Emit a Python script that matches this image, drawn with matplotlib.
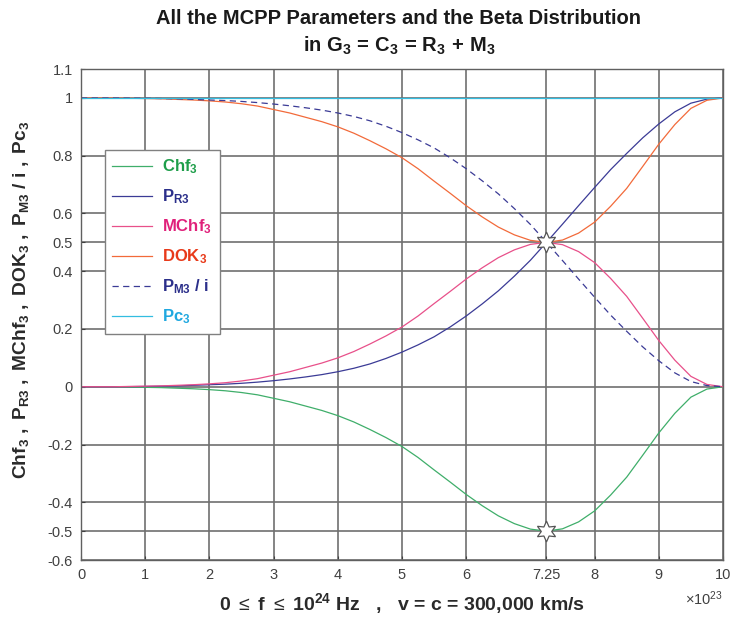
import numpy as np
import matplotlib
matplotlib.use("Agg")
import matplotlib.pyplot as plt

plt.rcParams['font.family'] = ['Liberation Sans', 'DejaVu Sans']
plt.rcParams['mathtext.fontset'] = 'custom'
plt.rcParams['mathtext.rm'] = 'Liberation Sans'
plt.rcParams['mathtext.bf'] = 'Liberation Sans:bold'
plt.rcParams['mathtext.it'] = 'Liberation Sans:italic'

# frequency axis in units of 1e23 Hz
f = [0, 0.25, 0.5, 0.75, 1, 1.25, 1.5, 1.75, 2, 2.25, 2.5, 2.75, 3, 3.25, 3.5,
     3.75, 4, 4.25, 4.5, 4.75, 5, 5.25, 5.5, 5.75, 6, 6.25, 6.5, 6.75, 7, 7.25,
     7.5, 7.75, 8, 8.25, 8.5, 8.75, 9, 9.25, 9.5, 9.75, 10]

p_r3 = [0, 0, 0, 0.0005, 0.001, 0.002, 0.003, 0.005, 0.007, 0.009, 0.012, 0.016,
        0.021, 0.027, 0.034, 0.042, 0.052, 0.064, 0.079, 0.098, 0.12, 0.145,
        0.173, 0.207, 0.245, 0.287, 0.332, 0.383, 0.438, 0.5, 0.563, 0.627,
        0.69, 0.752, 0.808, 0.862, 0.91, 0.952, 0.982, 0.996, 1.0]

p_m3 = [1, 1, 1, 0.9995, 0.999, 0.998, 0.997, 0.995, 0.993, 0.991, 0.988, 0.984,
        0.979, 0.973, 0.966, 0.958, 0.948, 0.936, 0.921, 0.902, 0.88, 0.855,
        0.827, 0.793, 0.755, 0.713, 0.668, 0.617, 0.562, 0.5, 0.437, 0.373,
        0.31, 0.248, 0.192, 0.138, 0.09, 0.048, 0.018, 0.004, 0.0]

chf3 = [0, 0, 0, -0.001, -0.002, -0.003, -0.005, -0.007, -0.01, -0.014, -0.02,
        -0.028, -0.04, -0.052, -0.067, -0.082, -0.1, -0.122, -0.148, -0.176,
        -0.207, -0.245, -0.288, -0.33, -0.373, -0.412, -0.447, -0.474, -0.493,
        -0.5, -0.492, -0.468, -0.43, -0.375, -0.313, -0.237, -0.16, -0.092,
        -0.036, -0.008, 0]

mchf3 = [0, 0, 0, 0.001, 0.002, 0.003, 0.005, 0.007, 0.01, 0.014, 0.02, 0.028,
         0.04, 0.052, 0.067, 0.082, 0.1, 0.122, 0.148, 0.176, 0.207, 0.245,
         0.288, 0.33, 0.373, 0.412, 0.447, 0.474, 0.493, 0.5, 0.492, 0.468,
         0.43, 0.375, 0.313, 0.237, 0.16, 0.092, 0.036, 0.008, 0]

dok3 = [1, 1, 1, 0.999, 0.998, 0.997, 0.995, 0.993, 0.99, 0.986, 0.98, 0.972,
        0.96, 0.948, 0.933, 0.918, 0.9, 0.878, 0.852, 0.824, 0.793, 0.755,
        0.712, 0.67, 0.627, 0.588, 0.553, 0.526, 0.507, 0.5, 0.508, 0.532,
        0.57, 0.625, 0.687, 0.763, 0.84, 0.908, 0.964, 0.992, 1]

pc3 = [1] * len(f)

star_x = [7.25, 7.25]
star_y = [0.5, -0.5]

x_ticks = [0, 1, 2, 3, 4, 5, 6, 7.25, 8, 9, 10]
x_ticklabels = ['0', '1', '2', '3', '4', '5', '6', '7.25', '8', '9', '10']
y_ticks = [-0.6, -0.5, -0.4, -0.2, 0, 0.2, 0.4, 0.5, 0.6, 0.8, 1, 1.1]
y_ticklabels = ['-0.6', '-0.5', '-0.4', '-0.2', '0', '0.2', '0.4', '0.5',
                '0.6', '0.8', '1', '1.1']

fig = plt.figure(figsize=(7.32, 6.23), dpi=100)
ax = fig.add_axes([0.1107, 0.1011, 0.877, 0.788])

lw = 0.9
ax.plot(f, chf3, color='#3fae6a', lw=lw, label=r'$\mathbf{Chf}_\mathbf{3}$')
ax.plot(f, p_r3, color='#3b3b96', lw=lw, label=r'$\mathbf{P}_\mathbf{R3}$')
ax.plot(f, mchf3, color='#e8508a', lw=lw, label=r'$\mathbf{MChf}_\mathbf{3}$')
ax.plot(f, dok3, color='#f26a3a', lw=lw, label=r'$\mathbf{DOK}_\mathbf{3}$')
ax.plot(f, p_m3, color='#3b3b96', lw=lw, dashes=(5, 3.5),
        label=r'$\mathbf{P}_\mathbf{M3}\mathbf{\ /\ i}$')
ax.plot(f, pc3, color='#33bde0', lw=lw, label=r'$\mathbf{Pc}_\mathbf{3}$')

ax.plot(star_x, star_y, ls='none', marker=(6, 1, 0), markersize=15,
        markerfacecolor='white', markeredgecolor='#555555', markeredgewidth=0.9,
        zorder=5)

ax.set_xlim(0, 10)
ax.set_ylim(-0.6, 1.1)
ax.set_xticks(x_ticks)
ax.set_xticklabels(x_ticklabels)
ax.set_yticks(y_ticks)
ax.set_yticklabels(y_ticklabels)
ax.tick_params(direction='in', length=3, labelsize=10.5, colors='#404040',
               pad=6)
ax.grid(True, color='#707070', lw=1.2)
ax.set_axisbelow(True)
for s in ax.spines.values():
    s.set_color('#606060')
    s.set_linewidth(1)

ax.set_xlabel(r'0 $\leq$ f $\leq$ 10$^{\mathbf{24}}$ Hz   ,   v = c = 300,000 km/s',
              fontsize=14, fontweight='bold', color='#2a2a2a', labelpad=6)
ax.set_ylabel(r'$\mathbf{Chf}_\mathbf{3}\mathbf{\ ,\ P}_\mathbf{R3}\mathbf{\ ,\ MChf}_\mathbf{3}'
              r'\mathbf{\ ,\ DOK}_\mathbf{3}\mathbf{\ ,\ P}_\mathbf{M3}\mathbf{\ /\ i\ ,\ Pc}_\mathbf{3}$',
              fontsize=13.8, color='#2a2a2a')
ax.yaxis.set_label_coords(-0.078, 0.53)
ax.text(1.0, -0.06, r'$\times$10$^{23}$', transform=ax.transAxes,
        ha='right', va='top', fontsize=10.5, color='#404040')

fig.text(0.545, 0.971, 'All the MCPP Parameters and the Beta Distribution',
         ha='center', va='center', fontsize=14.5, fontweight='bold', color='#1a1a1a')
fig.text(0.545, 0.927, r'in $\mathbf{G}_\mathbf{3}\mathbf{\,=\,C}_\mathbf{3}\mathbf{\,=\,R}_\mathbf{3}\mathbf{\,+\,M}_\mathbf{3}$',
         ha='center', va='center', fontsize=14.5, fontweight='bold', color='#1a1a1a')

leg = ax.legend(loc='upper left', bbox_to_anchor=(0.037, 0.835), fontsize=12,
                handlelength=2.4, handletextpad=0.6, labelspacing=0.68,
                borderpad=0.45, borderaxespad=0,
                fancybox=False, framealpha=1, edgecolor='#808080')
leg.get_frame().set_linewidth(1)
text_colors = ['#1e9e4a', '#2b2f8a', '#e0207a', '#e83a1a', '#2b2f8a', '#20a8e0']
for t, c in zip(leg.get_texts(), text_colors):
    t.set_color(c)

fig.savefig('out.png', dpi=100)
